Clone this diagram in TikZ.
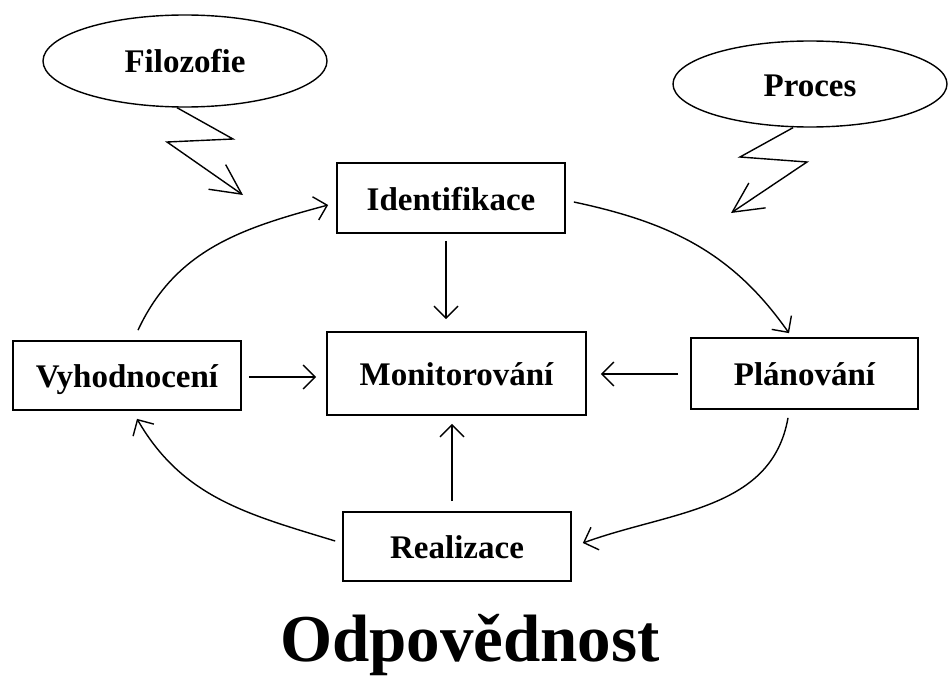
\documentclass[tikz,border=0pt]{standalone}
\usepackage{fontspec}
\setmainfont{Liberation Serif}
\usetikzlibrary{arrows.meta,shapes.geometric}
\begin{document}
\begin{tikzpicture}[x=1pt,y=1pt,
  box/.style={draw, line width=1.7pt, inner sep=0pt, text height=30pt, text depth=6pt,
    font=\bfseries\fontsize{33}{36}\selectfont},
  cloud/.style={ellipse, draw, line width=1.4pt, inner sep=0pt, text height=30pt, text depth=6pt,
    font=\bfseries\fontsize{33}{36}\selectfont},
  arr/.style={line width=1.4pt, -{Straight Barb[length=12pt,width=24pt]}},
  light/.style={line width=1.4pt, -{Straight Barb[length=30pt,width=30pt]}}]
\useasboundingbox (0,0) rectangle (950,-677);
% boxes
\node[box, minimum width=228pt, minimum height=70pt] (ident) at (451,-198) {Identifikace};
\node[box, minimum width=228pt, minimum height=69pt] (vyh) at (127,-375.5) {Vyhodnocení};
\node[box, minimum width=259pt, minimum height=83pt] (mon) at (456.5,-373.5) {Monitorování};
\node[box, minimum width=227pt, minimum height=71pt] (plan) at (804.5,-373.5) {Plánování};
\node[box, minimum width=228pt, minimum height=69pt] (real) at (457,-546.5) {Realizace};
% ellipses
\node[cloud, minimum width=284pt, minimum height=92pt] (filo) at (185,-61) {Filozofie};
\node[cloud, minimum width=274pt, minimum height=86pt] (proc) at (810,-84) {Proces};
% title
\node[font=\bfseries\fontsize{67}{72}\selectfont, anchor=base, inner sep=0pt] (title) at (470,-661) {Odpovědnost};
% lightning arrows
\coordinate (ftip) at (243,-195);
\coordinate (ptip) at (731,-213);
\draw[light] ([xshift=-8pt]filo.south) -- (233,-139) -- (167,-142) -- (ftip);
\draw[light] ([xshift=-17pt]proc.south) -- (740,-157) -- (807,-162) -- (ptip);
% straight arrows
\draw[arr] ([xshift=-5pt,yshift=-7pt]ident.south) -- ([xshift=-10.5pt,yshift=12pt]mon.north);
\draw[arr] ([xshift=7pt,yshift=-1.5pt]vyh.east) -- ([xshift=-10pt,yshift=-3.5pt]mon.west);
\draw[arr] ([xshift=-12pt,yshift=-0.5pt]plan.west) -- ([xshift=14pt,yshift=-0.5pt]mon.east);
\draw[arr] ([xshift=-5pt,yshift=10pt]real.north) -- ([xshift=-4.5pt,yshift=-8pt]mon.south);
% cycle arrows
\draw[arr] ([shift={(11pt,10pt)}]vyh.north) to[out=65,in=195] ([shift={(-8pt,-7pt)}]ident.west);
\draw[arr] ([shift={(8pt,-4pt)}]ident.east) to[out=-12,in=125] ([shift={(-15.5pt,4pt)}]plan.north);
\draw[arr] ([shift={(-16.5pt,-8pt)}]plan.south) to[out=-100,in=20] ([shift={(11pt,3.5pt)}]real.east);
\draw[arr] ([shift={(-7pt,5.5pt)}]real.west) to[out=163,in=-60] ([shift={(10pt,-8pt)}]vyh.south);
\end{tikzpicture}
\end{document}
